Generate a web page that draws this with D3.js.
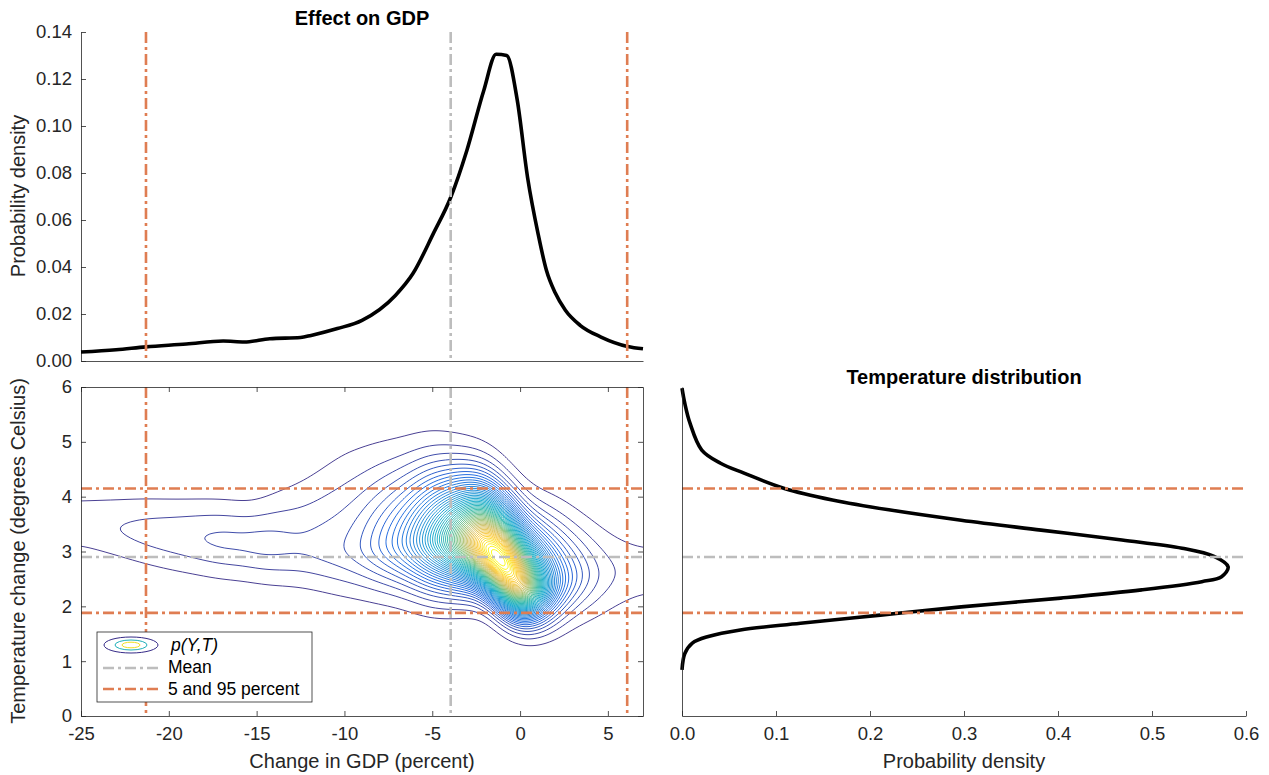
<!DOCTYPE html>
<html>
<head>
<meta charset="utf-8">
<script src="https://cdn.jsdelivr.net/npm/d3@7"></script>
<style>
  body { margin: 0; background: #fff; }
  svg { font-family: "Liberation Sans", Arial, sans-serif; }
</style>
</head>
<body>
<script>
// GDP effect density (top panel)
const gdpX = [-25, -23, -21.3, -19, -16.9, -15.7, -14.25, -12.5, -11.9, -10.4, -9.0, -7.1, -6.1, -4.94, -3.94, -3.03, -2.07, -1.36, -0.76, -0.16, 0.43, 1.03, 1.5, 2.0, 2.58, 3.42, 4.61, 6.12, 7.0]
const gdpDensity = [0.0038, 0.0048, 0.0060, 0.0072, 0.0085, 0.0081, 0.0095, 0.0100, 0.0109, 0.0138, 0.0173, 0.0279, 0.0372, 0.0542, 0.0698, 0.0896, 0.1150, 0.1305, 0.1300, 0.1110, 0.0780, 0.0540, 0.0386, 0.0290, 0.0216, 0.0152, 0.0102, 0.0062, 0.0052]

// temperature density (right panel)
const tempT = [5.98, 5.70, 5.34, 4.85, 4.61, 4.43, 4.15, 3.94, 3.76, 3.57, 3.39, 3.21, 3.06, 2.91, 2.72, 2.54, 2.45, 2.30, 2.15, 1.99, 1.84, 1.69, 1.57, 1.45, 1.33, 1.14, 0.84]
const tempDensity = [0, 0.003, 0.0085, 0.021, 0.041, 0.066, 0.109, 0.160, 0.220, 0.297, 0.382, 0.468, 0.532, 0.566, 0.581, 0.574, 0.553, 0.489, 0.403, 0.297, 0.211, 0.126, 0.062, 0.028, 0.011, 0.003, 0]

// summary lines
const gdpMean = -3.95, gdpP5 = -21.3, gdpP95 = 6.1
const tempMean = 2.9, tempP5 = 1.88, tempP95 = 4.15

// joint p(Y,T): temperature spread
const knotX = [-25, -20, -15, -10, -7, -5, -3, -2, -1, 0, 1, 2, 3, 5, 7]
const ridgeT = [3.5, 3.3, 3.15, 3.05, 3.15, 3.2, 3.2, 3.1, 2.75, 2.35, 2.35, 2.45, 2.55, 2.6, 2.65]
const spreadUp = [0.42, 0.45, 0.46, 1.0, 0.82, 0.74, 0.63, 0.6, 0.6, 0.62, 0.62, 0.64, 0.6, 0.55, 0.5]
const spreadDown = [0.38, 0.43, 0.44, 0.5, 0.5, 0.52, 0.46, 0.4, 0.37, 0.34, 0.37, 0.42, 0.44, 0.5, 0.5]
const jointWeight = [0.7, 0.7, 0.72, 0.8, 0.9, 1, 1, 1, 1, 1, 1, 0.9, 0.75, 0.5, 0.55]

const gdpTicks = [-25, -20, -15, -10, -5, 0, 5]
const tempTicks = [0, 1, 2, 3, 4, 5, 6]
const densTicks = [0, 0.02, 0.04, 0.06, 0.08, 0.10, 0.12, 0.14]
const tempDensTicks = [0, 0.1, 0.2, 0.3, 0.4, 0.5, 0.6]

const ink = '#262626'
const orange = '#df7d52'
const grey = '#bdbdbd'
const dashDot = '11,4,3,4'
const parula = ['#352a87', '#0f5cdd', '#1481d6', '#06a4ca', '#2eb7a4', '#87bf77', '#d1bb59', '#fec832', '#f9fb0e']

let xGdp = d3.scaleLinear().domain([-25, 7]).range([81, 643])
let yDens = d3.scaleLinear().domain([0, 0.14]).range([361, 32])
let yTemp = d3.scaleLinear().domain([0, 6]).range([716, 387])
let xTempDens = d3.scaleLinear().domain([0, 0.6]).range([682, 1246])

let svg = d3.select('body').append('svg')
    .attr('width', 1269)
    .attr('height', 775)

function styleAxis(g) {
    g.attr('font-family', null).attr('font-size', null)
    g.select('.domain').attr('stroke', ink).attr('stroke-width', 0.8)
    g.selectAll('.tick line').attr('stroke', ink).attr('stroke-width', 0.8)
    g.selectAll('.tick text').attr('fill', ink).style('font-size', '18.5px')
}

function vline(x, y0, y1, color) {
    svg.append('line')
        .attr('x1', x).attr('x2', x).attr('y1', y0).attr('y2', y1)
        .attr('stroke', color).attr('stroke-width', 2.6).attr('stroke-dasharray', dashDot)
}
function hline(y, x0, x1, color) {
    svg.append('line')
        .attr('x1', x0).attr('x2', x1).attr('y1', y).attr('y2', y)
        .attr('stroke', color).attr('stroke-width', 2.6).attr('stroke-dasharray', dashDot)
}

//---------- top panel: effect on GDP
svg.append('g').attr('transform', 'translate(81,0)')
    .call(d3.axisLeft(yDens).tickValues(densTicks).tickFormat(d3.format('.2f'))
        .tickSizeInner(-5).tickSizeOuter(0).tickPadding(9))
    .call(styleAxis)
svg.append('g').attr('transform', 'translate(0,361)')
    .call(d3.axisBottom(xGdp).tickValues([]).tickSizeOuter(0))
    .call(styleAxis)

let gdpLine = d3.line().x(d => xGdp(d[0])).y(d => yDens(d[1])).curve(d3.curveMonotoneX)
svg.append('path')
    .datum(d3.zip(gdpX, gdpDensity))
    .attr('d', gdpLine)
    .attr('fill', 'none').attr('stroke', '#000').attr('stroke-width', 3.6)
    .attr('stroke-linejoin', 'round')

vline(xGdp(gdpMean), 32, 361, grey)
vline(xGdp(gdpP5), 32, 361, orange)
vline(xGdp(gdpP95), 32, 361, orange)

svg.append('text').attr('x', 362).attr('y', 25).attr('text-anchor', 'middle')
    .attr('font-weight', 'bold').style('font-size', '20px').attr('fill', '#000')
    .text('Effect on GDP')
svg.append('text').attr('transform', 'translate(25,196) rotate(-90)').attr('text-anchor', 'middle')
    .style('font-size', '20px').attr('fill', ink)
    .text('Probability density')

//---------- joint density contours
const step = 2, gx0 = 71, gy0 = 377, nx = 292, ny = 176
let condMean = d3.scaleLinear().domain(knotX).range(ridgeT).clamp(true)
let condUp = d3.scaleLinear().domain(knotX).range(spreadUp).clamp(true)
let condDown = d3.scaleLinear().domain(knotX).range(spreadDown).clamp(true)
let condWeight = d3.scaleLinear().domain(knotX).range(jointWeight).clamp(true)
let gdpAt = d3.scaleLinear().domain(gdpX).range(gdpDensity).clamp(true)

let values = new Float64Array(nx * ny)
for (let j = 0; j < ny; j++) {
    let t = yTemp.invert(gy0 + (j + 0.5) * step)
    for (let i = 0; i < nx; i++) {
        let x = xGdp.invert(gx0 + (i + 0.5) * step)
        let m = condMean(x), up = condUp(x), dn = condDown(x)
        let z = Math.abs((t - m) / (t > m ? up : dn))
        values[i + j * nx] = condWeight(x) * gdpAt(x) / ((up + dn) / 2) * Math.exp(-0.5 * Math.pow(z, 1.8))
    }
}
if (d3.blur2) d3.blur2({ data: values, width: nx, height: ny }, 5, 2)

const levelsCount = 55
let vmax = d3.max(values)
let thresholds = d3.range(1, levelsCount + 1).map(k => k * vmax / (levelsCount + 1))
let contours = d3.contours().size([nx, ny]).thresholds(thresholds)(values)

let color = d3.scaleLinear()
    .domain(parula.map((c, i) => thresholds[0] + i / (parula.length - 1) * (thresholds[thresholds.length - 1] - thresholds[0])))
    .range(parula)

svg.append('clipPath').attr('id', 'jointClip')
    .append('rect').attr('x', 81).attr('y', 387).attr('width', 562).attr('height', 329)

let gridPath = d3.geoPath(d3.geoTransform({
    point(x, y) { this.stream.point(gx0 + x * step, gy0 + y * step) }
}))

svg.append('g').attr('clip-path', 'url(#jointClip)')
    .selectAll('path')
    .data(contours)
    .enter()
    .append('path')
    .attr('d', gridPath)
    .attr('fill', 'none')
    .attr('stroke', d => color(d.value))
    .attr('stroke-width', 0.9)

vline(xGdp(gdpMean), 387, 716, grey)
hline(yTemp(tempMean), 81, 643, grey)
vline(xGdp(gdpP5), 387, 716, orange)
vline(xGdp(gdpP95), 387, 716, orange)
hline(yTemp(tempP5), 81, 643, orange)
hline(yTemp(tempP95), 81, 643, orange)

svg.append('g').attr('transform', 'translate(0,716)')
    .call(d3.axisBottom(xGdp).tickValues(gdpTicks).tickFormat(d => String(d))
        .tickSizeInner(-5).tickSizeOuter(0).tickPadding(11))
    .call(styleAxis)
svg.append('g').attr('transform', 'translate(0,387)')
    .call(d3.axisTop(xGdp).tickValues(gdpTicks).tickFormat('').tickSizeInner(-5).tickSizeOuter(0))
    .call(styleAxis)
svg.append('g').attr('transform', 'translate(81,0)')
    .call(d3.axisLeft(yTemp).tickValues(tempTicks).tickFormat(d => String(d))
        .tickSizeInner(-5).tickSizeOuter(0).tickPadding(9))
    .call(styleAxis)
svg.append('g').attr('transform', 'translate(643,0)')
    .call(d3.axisRight(yTemp).tickValues(tempTicks).tickFormat('').tickSizeInner(-5).tickSizeOuter(0))
    .call(styleAxis)

svg.append('text').attr('x', 362).attr('y', 768).attr('text-anchor', 'middle')
    .style('font-size', '20px').attr('fill', ink)
    .text('Change in GDP (percent)')
svg.append('text').attr('transform', 'translate(25,551) rotate(-90)').attr('text-anchor', 'middle')
    .style('font-size', '20px').attr('fill', ink)
    .text('Temperature change (degrees Celsius)')

// legend
let legend = svg.append('g').attr('class', 'legend')
legend.append('rect').attr('x', 97).attr('y', 632).attr('width', 215).attr('height', 70)
    .attr('fill', '#fff').attr('stroke', ink).attr('stroke-width', 0.8)
legend.append('ellipse').attr('cx', 131).attr('cy', 645).attr('rx', 27).attr('ry', 8)
    .attr('fill', 'none').attr('stroke', parula[0]).attr('stroke-width', 1)
legend.append('ellipse').attr('cx', 131).attr('cy', 645).attr('rx', 16).attr('ry', 5)
    .attr('fill', 'none').attr('stroke', '#1eb0b8').attr('stroke-width', 1)
legend.append('ellipse').attr('cx', 131).attr('cy', 645).attr('rx', 9).attr('ry', 2.8)
    .attr('fill', 'none').attr('stroke', '#f0e020').attr('stroke-width', 1)
legend.append('line').attr('x1', 103).attr('x2', 160).attr('y1', 668).attr('y2', 668)
    .attr('stroke', grey).attr('stroke-width', 2.6).attr('stroke-dasharray', dashDot)
legend.append('line').attr('x1', 103).attr('x2', 160).attr('y1', 689).attr('y2', 689)
    .attr('stroke', orange).attr('stroke-width', 2.6).attr('stroke-dasharray', dashDot)
legend.selectAll('text.entry')
    .data(['p(Y,T)', 'Mean', '5 and 95 percent'])
    .enter()
    .append('text')
    .attr('class', 'entry')
    .attr('x', (d, i) => i == 0 ? 171 : 168)
    .attr('y', (d, i) => 651 + i * 22)
    .attr('font-style', (d, i) => i == 0 ? 'italic' : null)
    .style('font-size', '17.5px').attr('fill', '#000')
    .text(d => d)

//---------- right panel: temperature distribution
let tempLine = d3.line().x(d => xTempDens(d[1])).y(d => yTemp(d[0])).curve(d3.curveCatmullRom)
svg.append('path')
    .datum(d3.zip(tempT, tempDensity))
    .attr('d', tempLine)
    .attr('fill', 'none').attr('stroke', '#000').attr('stroke-width', 3.6)

hline(yTemp(tempMean), 682, 1246, grey)
hline(yTemp(tempP5), 682, 1246, orange)
hline(yTemp(tempP95), 682, 1246, orange)

svg.append('g').attr('transform', 'translate(682,0)')
    .call(d3.axisLeft(yTemp).tickValues([]).tickSizeOuter(0))
    .call(styleAxis)
svg.append('g').attr('transform', 'translate(0,716)')
    .call(d3.axisBottom(xTempDens).tickValues(tempDensTicks).tickFormat(d3.format('.1f'))
        .tickSizeInner(-5).tickSizeOuter(0).tickPadding(11))
    .call(styleAxis)

svg.append('text').attr('x', 964).attr('y', 384).attr('text-anchor', 'middle')
    .attr('font-weight', 'bold').style('font-size', '20px').attr('fill', '#000')
    .text('Temperature distribution')
svg.append('text').attr('x', 964).attr('y', 768).attr('text-anchor', 'middle')
    .style('font-size', '20px').attr('fill', ink)
    .text('Probability density')
</script>
</body>
</html>
